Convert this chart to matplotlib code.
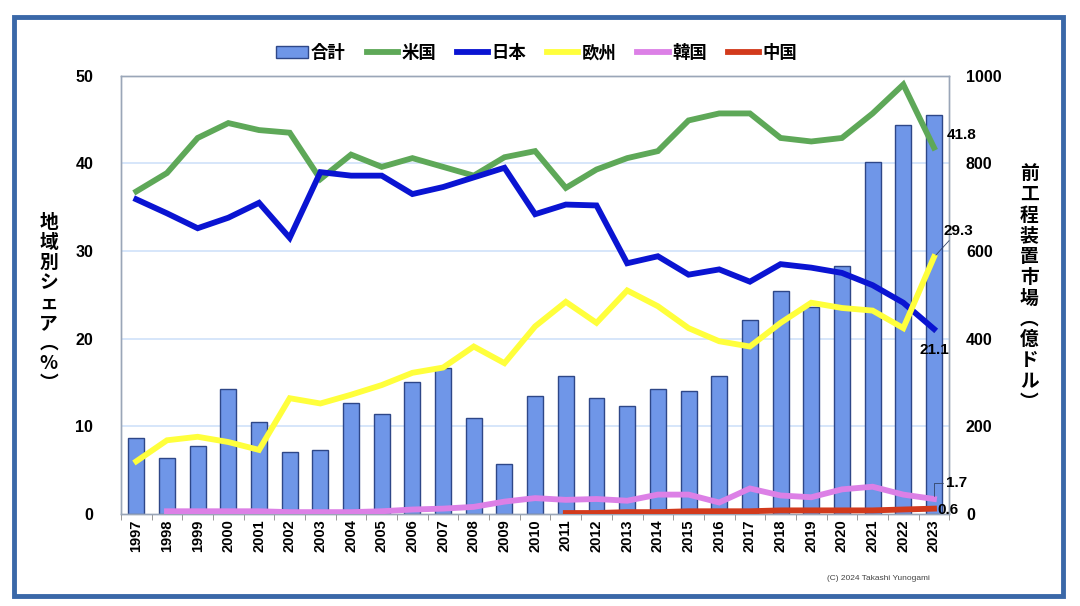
import matplotlib.pyplot as plt
from matplotlib.patches import Rectangle
from matplotlib.lines import Line2D
from matplotlib.patches import Patch

plt.rcParams['font.family'] = ['Liberation Sans', 'Noto Sans CJK JP', 'DejaVu Sans']

years = [str(y) for y in range(1997, 2024)]

# market size (right axis, 100M USD)
total = [174, 127, 156, 285, 209, 142, 146, 253, 228, 301, 333, 218, 114, 268,
         315, 264, 247, 285, 281, 315, 443, 508, 473, 565, 804, 888, 911]

# regional shares (%)
usa = [36.8, 38.9, 42.9, 44.6, 43.8, 43.5, 38.2, 41.0, 39.6, 40.6, 39.6, 38.6, 40.7, 41.4,
       37.2, 39.3, 40.6, 41.4, 44.9, 45.7, 45.7, 42.9, 42.5, 42.9, 45.7, 49.0, 41.8]
japan = [35.9, 34.3, 32.6, 33.8, 35.5, 31.5, 39.0, 38.6, 38.6, 36.5, 37.3, 38.4, 39.5, 34.2,
         35.3, 35.2, 28.6, 29.4, 27.3, 27.9, 26.5, 28.5, 28.1, 27.5, 26.1, 24.1, 21.1]
europe = [6.0, 8.4, 8.8, 8.2, 7.3, 13.2, 12.6, 13.6, 14.7, 16.1, 16.7, 19.1, 17.2, 21.4,
          24.2, 21.8, 25.5, 23.7, 21.2, 19.7, 19.1, 21.8, 24.1, 23.5, 23.2, 21.2, 29.3]
korea = [None, 0.3, 0.3, 0.3, 0.3, 0.2, 0.2, 0.2, 0.3, 0.5, 0.6, 0.8, 1.4, 1.8,
         1.6, 1.7, 1.5, 2.2, 2.2, 1.3, 2.9, 2.1, 1.9, 2.8, 3.1, 2.2, 1.7]
china = [None] * 14 + [0.1, 0.1, 0.2, 0.2, 0.3, 0.3, 0.3, 0.4, 0.4, 0.4, 0.4, 0.5, 0.6]

series = [('米国', usa, '#5ea858'), ('日本', japan, '#0a14d2'), ('欧州', europe, '#ffff3c'),
          ('韓国', korea, '#dc80e6'), ('中国', china, '#d23a1c')]

fig = plt.figure(figsize=(10.8, 6.06), dpi=100)
fig.patches.append(Rectangle((0.0130, 0.0165), 0.971, 0.955, transform=fig.transFigure,
                             fill=False, edgecolor='#3a68a8', linewidth=3.5))

ax = fig.add_axes([0.112, 0.152, 0.767, 0.723])
ax2 = ax.twinx()
ax.set_zorder(ax2.get_zorder() + 1)
ax.patch.set_visible(False)
ax2.set_facecolor('#a9c9f5')

x = list(range(len(years)))
ax2.bar(x, total, width=0.52, color='#6f96e8', edgecolor='#2e4788', linewidth=1.0, zorder=2)
ax2.set_ylim(0, 1000)
ax2.set_yticks([0, 200, 400, 600, 800, 1000])
ax.set_ylim(0, 50)
ax.set_yticks([0, 10, 20, 30, 40, 50])
for v in [10, 20, 30, 40]:
    ax2.axhline(v * 20, color='#cfe1f9', linewidth=1.2, zorder=1)

for name, vals, col in series:
    xs = [i for i, v in zip(x, vals) if v is not None]
    ys = [v for v in vals if v is not None]
    ax.plot(xs, ys, color=col, linewidth=4.2, solid_joinstyle='miter', zorder=3)

ax.set_xlim(-0.5, len(years) - 0.5)
ax.set_xticks(x)
ax.set_xticklabels(years, rotation=90, fontsize=10.5, fontweight='bold')
ax.set_xticks([i + 0.5 for i in range(-1, len(years))], minor=True)
ax.tick_params(axis='x', which='major', length=0, pad=4)
ax.tick_params(axis='x', which='minor', length=4, color='#888888')
ax.tick_params(axis='y', length=0, labelsize=11.5, pad=20)
ax2.tick_params(axis='y', length=0, labelsize=11.5, pad=12)
for lab in ax.get_yticklabels() + ax2.get_yticklabels():
    lab.set_fontweight('bold')

for a in (ax, ax2):
    for s in a.spines.values():
        s.set_color('#9aa6b8')
        s.set_linewidth(1.0)

# axis titles (vertical stacked)
fig.text(0.045, 0.50, '\n'.join('地域別シェア') + '\n︵\n%\n︶', ha='center', va='center',
         fontsize=13.5, fontweight='bold', linespacing=1.08, family=['Noto Sans CJK JP'])
fig.text(0.953, 0.525, '\n'.join('前工程装置市場') + '\n︵\n億\nド\nル\n︶', ha='center', va='center',
         fontsize=13.5, fontweight='bold', linespacing=1.12, family=['Noto Sans CJK JP'])

# end labels
last = len(years) - 1
kw = dict(fontsize=11, fontweight='bold', annotation_clip=False)
ax.annotate('41.8', xy=(last, usa[-1]), xytext=(last + 0.4, 43.2), ha='left', va='center', **kw)
ax.annotate('29.3', xy=(last, europe[-1]), xytext=(last + 0.3, 32.3), ha='left', va='center',
            arrowprops=dict(arrowstyle='-', color='#334466', lw=0.6, shrinkA=0, shrinkB=2), **kw)
ax.annotate('21.1', xy=(last, japan[-1]), xytext=(last, 18.7), ha='center', va='center',
            arrowprops=dict(arrowstyle='-', color='#334466', lw=0.6, shrinkA=6, shrinkB=2), **kw)
ax.annotate('1.7', xy=(last, korea[-1]), xytext=(last + 0.4, 3.5), ha='left', va='center',
            arrowprops=dict(arrowstyle='-', color='#334466', lw=0.6, shrinkA=0, shrinkB=2,
                            connectionstyle='angle,angleA=0,angleB=90,rad=0'), **kw)
ax.annotate('0.6', xy=(last, china[-1]), xytext=(last + 0.1, 0.5), ha='left', va='center', **kw)

# legend
handles = [Patch(facecolor='#6f96e8', edgecolor='#2e4788', label='合計')]
handles += [Line2D([0], [0], color=c, linewidth=4.2, label=n) for n, _, c in series]
leg = fig.legend(handles=handles, loc='center', bbox_to_anchor=(0.497, 0.912), ncol=6,
                 frameon=False, handlelength=1.8, handletextpad=0.2, columnspacing=1.2,
                 prop={'family': ['Noto Sans CJK JP'], 'weight': 'bold', 'size': 12.5})

fig.text(0.813, 0.046, '(C) 2024 Takashi Yunogami', ha='center', va='center', fontsize=6,
         color='#444444')

fig.savefig('out.png', dpi=100)
